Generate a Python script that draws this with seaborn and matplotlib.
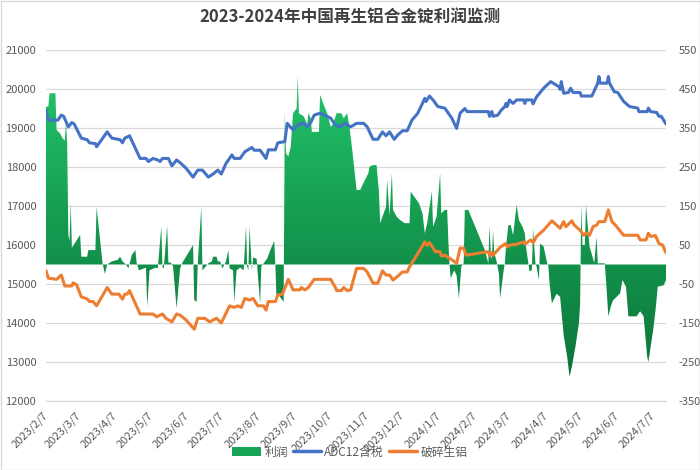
import matplotlib
matplotlib.use("Agg")
import matplotlib.pyplot as plt
import matplotlib.dates as mdates
import numpy as np
import pandas as pd
import seaborn as sns
from matplotlib.patches import Patch, Rectangle
from matplotlib.lines import Line2D
from matplotlib.colors import LinearSegmentedColormap

sns.set_theme(style="white")
plt.rcParams['font.family'] = ['Noto Sans CJK SC', 'DejaVu Sans']
plt.rcParams['axes.unicode_minus'] = False

title = "2023-2024年中国再生铝合金锭利润监测"
series_names = ["利润", "ADC12含税", "破碎生铝"]

adc12_dates = [
    "2023-02-07", "2023-02-09", "2023-02-17", "2023-02-20", "2023-02-22", "2023-02-26",
    "2023-03-01", "2023-03-03", "2023-03-09", "2023-03-14", "2023-03-16", "2023-03-21",
    "2023-03-22", "2023-03-31", "2023-04-04", "2023-04-11", "2023-04-13", "2023-04-15",
    "2023-04-19", "2023-04-28", "2023-05-03", "2023-05-05", "2023-05-09", "2023-05-13",
    "2023-05-15", "2023-05-17", "2023-05-22", "2023-05-25", "2023-05-29", "2023-06-01",
    "2023-06-06", "2023-06-12", "2023-06-16", "2023-06-20", "2023-06-25", "2023-06-29",
    "2023-07-03", "2023-07-06", "2023-07-10", "2023-07-15", "2023-07-17", "2023-07-22",
    "2023-07-26", "2023-08-01", "2023-08-03", "2023-08-08", "2023-08-13", "2023-08-15",
    "2023-08-21", "2023-08-23", "2023-08-29", "2023-08-31", "2023-09-05", "2023-09-09",
    "2023-09-14", "2023-09-17", "2023-09-20", "2023-09-23", "2023-09-28", "2023-10-02",
    "2023-10-07", "2023-10-11", "2023-10-15", "2023-10-19", "2023-10-24", "2023-10-29",
    "2023-11-04", "2023-11-07", "2023-11-12", "2023-11-16", "2023-11-20", "2023-11-23",
    "2023-11-26", "2023-11-30", "2023-12-03", "2023-12-07", "2023-12-11", "2023-12-15",
    "2023-12-20", "2023-12-26", "2023-12-27", "2023-12-30", "2024-01-03", "2024-01-06",
    "2024-01-12", "2024-01-18", "2024-01-22", "2024-01-25", "2024-01-29", "2024-01-31",
    "2024-02-18", "2024-02-19", "2024-02-21", "2024-02-22", "2024-02-26", "2024-02-29",
    "2024-03-03", "2024-03-04", "2024-03-05", "2024-03-07", "2024-03-10", "2024-03-13",
    "2024-03-19", "2024-03-20", "2024-03-21", "2024-03-26", "2024-03-27", "2024-03-30",
    "2024-04-05", "2024-04-11", "2024-04-13", "2024-04-18", "2024-04-19", "2024-04-20",
    "2024-04-22", "2024-04-26", "2024-04-28", "2024-04-30", "2024-05-06", "2024-05-07",
    "2024-05-16", "2024-05-19", "2024-05-21", "2024-05-22", "2024-05-23", "2024-05-29",
    "2024-05-30", "2024-05-31", "2024-06-04", "2024-06-07", "2024-06-12", "2024-06-17",
    "2024-06-24", "2024-06-25", "2024-07-02", "2024-07-03", "2024-07-05", "2024-07-10",
    "2024-07-12", "2024-07-14", "2024-07-18",
]
adc12_values = [
    19450, 19200, 19200, 19330, 19300, 19030,
    19140, 19100, 18740, 18700, 18620, 18600,
    18520, 18900, 18740, 18700, 18620, 18740,
    18800, 18220, 18220, 18140, 18220, 18180,
    18140, 18220, 18220, 18030, 18180, 18110,
    17970, 17740, 17920, 17920, 17740, 17820,
    17920, 17820, 18090, 18310, 18220, 18220,
    18390, 18500, 18430, 18430, 18220, 18440,
    18440, 18620, 18650, 19120, 18950, 19080,
    19120, 19030, 19140, 19330, 19380, 19330,
    19250, 19080, 19030, 19120, 19030, 19120,
    19120, 19030, 18710, 18710, 18900, 18800,
    18900, 18710, 18820, 18930, 18930, 19200,
    19380, 19760, 19680, 19820, 19680, 19550,
    19510, 19250, 18990, 19380, 19500, 19420,
    19420, 19300, 19420, 19300, 19330, 19460,
    19550, 19630, 19550, 19720, 19630, 19720,
    19720, 19630, 19720, 19720, 19620, 19800,
    20020, 20190, 20150, 20060, 19990, 20190,
    19890, 19910, 20020, 19910, 19910, 19820,
    19820, 20020, 20150, 20320, 20150, 20150,
    20320, 20150, 19930, 19910, 19680, 19550,
    19510, 19420, 19420, 19510, 19420, 19400,
    19300, 19300, 19100,
]

scrap_dates = [
    "2023-02-07", "2023-02-09", "2023-02-16", "2023-02-20", "2023-02-23", "2023-03-01",
    "2023-03-02", "2023-03-05", "2023-03-09", "2023-03-14", "2023-03-16", "2023-03-19",
    "2023-03-22", "2023-03-31", "2023-04-04", "2023-04-10", "2023-04-13", "2023-04-15",
    "2023-04-17", "2023-04-19", "2023-04-28", "2023-05-09", "2023-05-12", "2023-05-17",
    "2023-05-20", "2023-05-25", "2023-05-29", "2023-06-01", "2023-06-06", "2023-06-13",
    "2023-06-16", "2023-06-22", "2023-06-26", "2023-07-02", "2023-07-06", "2023-07-10",
    "2023-07-13", "2023-07-17", "2023-07-20", "2023-07-23", "2023-07-26", "2023-07-30",
    "2023-08-02", "2023-08-06", "2023-08-11", "2023-08-13", "2023-08-15", "2023-08-21",
    "2023-08-23", "2023-08-27", "2023-09-01", "2023-09-05", "2023-09-11", "2023-09-12",
    "2023-09-15", "2023-09-18", "2023-09-23", "2023-10-07", "2023-10-11", "2023-10-12",
    "2023-10-16", "2023-10-18", "2023-10-21", "2023-10-24", "2023-10-29", "2023-11-04",
    "2023-11-07", "2023-11-12", "2023-11-16", "2023-11-20", "2023-11-23", "2023-11-26",
    "2023-11-29", "2023-12-03", "2023-12-07", "2023-12-11", "2023-12-13", "2023-12-20",
    "2023-12-26", "2023-12-28", "2023-12-30", "2024-01-04", "2024-01-08", "2024-01-09",
    "2024-01-12", "2024-01-18", "2024-01-22", "2024-01-25", "2024-01-28", "2024-01-30",
    "2024-02-18", "2024-02-19", "2024-02-21", "2024-02-22", "2024-02-28", "2024-03-04",
    "2024-03-05", "2024-03-08", "2024-03-13", "2024-03-19", "2024-03-20", "2024-03-25",
    "2024-03-27", "2024-03-30", "2024-04-05", "2024-04-12", "2024-04-16", "2024-04-19",
    "2024-04-22", "2024-04-24", "2024-04-29", "2024-05-01", "2024-05-06", "2024-05-09",
    "2024-05-11", "2024-05-14", "2024-05-17", "2024-05-20", "2024-05-22", "2024-05-27",
    "2024-05-30", "2024-06-02", "2024-06-05", "2024-06-12", "2024-06-24", "2024-06-26",
    "2024-07-01", "2024-07-03", "2024-07-05", "2024-07-09", "2024-07-12", "2024-07-15",
    "2024-07-18",
]
scrap_values = [
    15340, 15150, 15120, 15230, 14950, 14950,
    15030, 14980, 14670, 14620, 14550, 14550,
    14440, 14910, 14740, 14740, 14610, 14740,
    14740, 14830, 14230, 14230, 14160, 14230,
    14120, 14030, 14230, 14200, 14080, 13840,
    14120, 14120, 14030, 14120, 14000, 14250,
    14440, 14400, 14440, 14400, 14630, 14590,
    14630, 14440, 14440, 14330, 14550, 14550,
    14720, 14740, 15120, 14850, 14850, 14910,
    14850, 14910, 15120, 15120, 14910, 14830,
    14830, 14910, 14830, 14850, 15400, 15400,
    15310, 15020, 15020, 15340, 15230, 15230,
    15100, 15200, 15310, 15310, 15440, 15780,
    16080, 15990, 16060, 15830, 15830, 15720,
    15740, 15620, 15530, 15920, 15920, 15740,
    15830, 15720, 15810, 15740, 15940, 16040,
    15950, 16000, 16020, 16080, 16020, 16130,
    16060, 16220, 16380, 16620, 16510, 16430,
    16600, 16470, 16620, 16510, 16380, 16250,
    16310, 16250, 16470, 16510, 16600, 16600,
    16900, 16600, 16510, 16250, 16250, 16130,
    16130, 16300, 16220, 16240, 16040, 16000,
    15800,
]

profit_dates = [
    "2023-02-07", "2023-02-09", "2023-02-10", "2023-02-15", "2023-02-16", "2023-02-19",
    "2023-02-21", "2023-02-23", "2023-02-24", "2023-02-25", "2023-02-26", "2023-02-27",
    "2023-02-28", "2023-03-01", "2023-03-08", "2023-03-09", "2023-03-14", "2023-03-15",
    "2023-03-21", "2023-03-22", "2023-03-27", "2023-03-29", "2023-03-31", "2023-04-04",
    "2023-04-09", "2023-04-11", "2023-04-13", "2023-04-16", "2023-04-18", "2023-04-21",
    "2023-04-24", "2023-04-25", "2023-04-27", "2023-05-03", "2023-05-04", "2023-05-06",
    "2023-05-11", "2023-05-13", "2023-05-16", "2023-05-17", "2023-05-18", "2023-05-21",
    "2023-05-22", "2023-05-24", "2023-05-26", "2023-05-29", "2023-06-01", "2023-06-02",
    "2023-06-03", "2023-06-06", "2023-06-12", "2023-06-13", "2023-06-15", "2023-06-16",
    "2023-06-19", "2023-06-20", "2023-06-22", "2023-06-25", "2023-06-28", "2023-06-29",
    "2023-07-02", "2023-07-03", "2023-07-05", "2023-07-07", "2023-07-10", "2023-07-12",
    "2023-07-13", "2023-07-16", "2023-07-17", "2023-07-19", "2023-07-22", "2023-07-25",
    "2023-07-27", "2023-07-28", "2023-07-29", "2023-07-30", "2023-08-01", "2023-08-02",
    "2023-08-05", "2023-08-08", "2023-08-09", "2023-08-14", "2023-08-17", "2023-08-20",
    "2023-08-21", "2023-08-22", "2023-08-23", "2023-08-28", "2023-08-29", "2023-08-30",
    "2023-09-01", "2023-09-03", "2023-09-05", "2023-09-08", "2023-09-09", "2023-09-10",
    "2023-09-14", "2023-09-17", "2023-09-18", "2023-09-20", "2023-09-21", "2023-09-27",
    "2023-09-28", "2023-10-01", "2023-10-04", "2023-10-07", "2023-10-09", "2023-10-12",
    "2023-10-16", "2023-10-18", "2023-10-21", "2023-10-23", "2023-10-25", "2023-10-29",
    "2023-11-01", "2023-11-03", "2023-11-08", "2023-11-09", "2023-11-12", "2023-11-15",
    "2023-11-16", "2023-11-17", "2023-11-18", "2023-11-23", "2023-11-24", "2023-11-26",
    "2023-11-28", "2023-11-29", "2023-12-02", "2023-12-05", "2023-12-09", "2023-12-13",
    "2023-12-14", "2023-12-17", "2023-12-21", "2023-12-24", "2023-12-26", "2023-12-28",
    "2024-01-01", "2024-01-02", "2024-01-05", "2024-01-08", "2024-01-09", "2024-01-12",
    "2024-01-14", "2024-01-15", "2024-01-16", "2024-01-17", "2024-01-20", "2024-01-22",
    "2024-01-24", "2024-01-26", "2024-01-28", "2024-01-29", "2024-02-01", "2024-02-15",
    "2024-02-18", "2024-02-19", "2024-02-20", "2024-02-21", "2024-02-22", "2024-02-23",
    "2024-02-25", "2024-02-27", "2024-02-28", "2024-03-02", "2024-03-03", "2024-03-04",
    "2024-03-06", "2024-03-08", "2024-03-10", "2024-03-13", "2024-03-15", "2024-03-18",
    "2024-03-20", "2024-03-21", "2024-03-23", "2024-03-24", "2024-03-26", "2024-03-27",
    "2024-03-29", "2024-03-30", "2024-04-01", "2024-04-02", "2024-04-05", "2024-04-08",
    "2024-04-09", "2024-04-10", "2024-04-12", "2024-04-16", "2024-04-19", "2024-04-22",
    "2024-04-25", "2024-04-27", "2024-04-29", "2024-05-02", "2024-05-05", "2024-05-06",
    "2024-05-07", "2024-05-08", "2024-05-10", "2024-05-11", "2024-05-14", "2024-05-17",
    "2024-05-18", "2024-05-20", "2024-05-21", "2024-05-27", "2024-05-28", "2024-05-30",
    "2024-06-01", "2024-06-03", "2024-06-06", "2024-06-09", "2024-06-11", "2024-06-14",
    "2024-06-16", "2024-06-23", "2024-06-26", "2024-06-29", "2024-07-02", "2024-07-03",
    "2024-07-04", "2024-07-07", "2024-07-09", "2024-07-11", "2024-07-16", "2024-07-18",
]
profit_values = [
    405, 405, 439, 439, 345, 336,
    324, 318, 366, 310, 76, 60,
    157, 43, 76, 20, 20, 37,
    37, 148, 5, -24, 0, 8,
    12, 20, 8, 0, -10, 25,
    37, 5, -15, -8, -108, -15,
    -8, -10, 97, -5, -12, 99,
    5, 5, -5, -112, -10, -2,
    5, 20, 50, -91, -96, 2,
    147, -15, -8, 3, 8, 20,
    20, 8, 8, -10, 8, 37,
    -10, -15, -96, -15, -8, -15,
    97, -5, -15, 97, -15, 18,
    15, -100, -5, 15, 40, 60,
    -3, -96, -75, -96, 392, 285,
    277, 302, 388, 400, 482, 388,
    380, 360, 388, 375, 340, 340,
    435, 410, 388, 353, 360, 388,
    388, 375, 388, 353, 302, 191,
    191, 204, 234, 251, 255, 255,
    220, 187, 106, 148, 217, 125,
    234, 140, 123, 114, 106, 106,
    187, 174, 157, 131, 80, 106,
    187, 97, 123, 234, 131, 140,
    140, 60, 0, -35, -15, -28,
    -87, -5, 3, 140, 140, 37,
    3, 101, 30, 12, 88, 30,
    8, -24, -87, -15, 3, 46,
    101, 101, 75, 153, 114, 97,
    80, 46, 3, -18, -14, 93,
    3, -5, -40, 54, 46, 3,
    -2, -48, -100, -75, -83, -181,
    -236, -288, -262, -211, -150, -100,
    153, 50, 50, 153, 46, 15,
    3, 71, 3, 3, -40, -133,
    -108, -92, -83, -74, -40, -57,
    -133, -133, -120, -133, -236, -250,
    -230, -170, -120, -57, -53, -40,
]

tick_dates = [
    "2023-02-07", "2023-03-07", "2023-04-07", "2023-05-07", "2023-06-07", "2023-07-07",
    "2023-08-07", "2023-09-07", "2023-10-07", "2023-11-07", "2023-12-07", "2024-01-07",
    "2024-02-07", "2024-03-07", "2024-04-07", "2024-05-07", "2024-06-07", "2024-07-07",
]
tick_labels = [
    "2023/2/7", "2023/3/7", "2023/4/7", "2023/5/7", "2023/6/7", "2023/7/7",
    "2023/8/7", "2023/9/7", "2023/10/7", "2023/11/7", "2023/12/7", "2024/1/7",
    "2024/2/7", "2024/3/7", "2024/4/7", "2024/5/7", "2024/6/7", "2024/7/7",
]
left_ticks = [12000, 13000, 14000, 15000, 16000, 17000, 18000, 19000, 20000, 21000]
right_ticks = [-350, -250, -150, -50, 50, 150, 250, 350, 450, 550]

BLUE = "#4472C4"
ORANGE = "#ED7D31"
GRID = "#D9D9D9"
TXT = "#595959"

fig = plt.figure(figsize=(7, 4.7), dpi=100)
W, H = 700, 470
pa = fig.add_axes([46 / W, 1 - 401 / H, (666 - 46) / W, (401 - 50) / H])
qa = pa.twinx()

x_adc = mdates.date2num(pd.to_datetime(adc12_dates))
x_scrap = mdates.date2num(pd.to_datetime(scrap_dates))
x_profit = mdates.date2num(pd.to_datetime(profit_dates))
xmin = mdates.date2num(pd.Timestamp("2023-02-07"))
xmax = mdates.date2num(pd.Timestamp("2024-07-18"))

# profit area with vertical gradient (right axis)
fb = pa.fill_between(x_profit, profit_values, 0, facecolor="none", edgecolor="none")
cmap = LinearSegmentedColormap.from_list("g", ["#0b6e36", "#159a50", "#25cc70"])
grad = np.linspace(1, 0, 256).reshape(-1, 1)
im = pa.imshow(grad, cmap=cmap, aspect="auto", extent=[xmin, xmax, -350, 550],
               origin="upper", zorder=2, interpolation="bilinear")
im.set_clip_path(fb.get_paths()[0], transform=pa.transData)

# price lines (left axis)
sns.lineplot(x=x_adc, y=adc12_values, ax=qa, color=BLUE, lw=2.2, sort=False,
             estimator=None, label=None)
sns.lineplot(x=x_scrap, y=scrap_values, ax=qa, color=ORANGE, lw=2.2, sort=False,
             estimator=None, label=None)

pa.set_xlim(xmin, xmax)
pa.set_ylim(-350, 550)
qa.set_ylim(12000, 21000)
pa.set_yticks(right_ticks)
qa.set_yticks(left_ticks)
pa.yaxis.tick_right()
qa.yaxis.tick_left()
pa.set_xticks(mdates.date2num(pd.to_datetime(tick_dates)))
pa.set_xticklabels(tick_labels, rotation=45, ha="right", va="center",
                   rotation_mode="anchor")
pa.set_xlabel("")
pa.set_ylabel("")
qa.set_ylabel("")

pa.grid(axis="y", color=GRID, lw=0.9)
pa.grid(axis="x", visible=False)
qa.grid(False)
pa.set_axisbelow(True)

for ax in (pa, qa):
    for s in ax.spines.values():
        s.set_visible(False)
pa.spines["bottom"].set_visible(True)
pa.spines["bottom"].set_color(GRID)
pa.spines["bottom"].set_linewidth(0.9)

pa.tick_params(axis="x", colors=GRID, length=4, width=0.9, direction="out",
               labelcolor=TXT, labelsize=8, pad=5)
pa.tick_params(axis="y", length=0, labelcolor=TXT, labelsize=8, pad=9)
qa.tick_params(axis="y", length=0, labelcolor=TXT, labelsize=8, pad=7)

fig.text(0.5, 1 - 18 / H, title, ha="center", va="center", fontsize=12,
         fontweight="bold", color="#404040")

handles = [
    Patch(facecolor="#17a457", edgecolor="none"),
    Line2D([], [], color=BLUE, lw=2.5),
    Line2D([], [], color=ORANGE, lw=2.5),
]
leg = fig.legend(handles, series_names, loc="center", bbox_to_anchor=(0.5, 1 - 452 / H),
                 ncol=3, frameon=False, fontsize=8.5, handlelength=2.4, handleheight=0.7,
                 handletextpad=0.3, columnspacing=0.4)
for t in leg.get_texts():
    t.set_color(TXT)

fig.patches.append(Rectangle((0.5 / W, 0.5 / H), 1 - 1 / W, 1 - 1 / H,
                             transform=fig.transFigure, fill=False,
                             edgecolor=GRID, lw=1))

fig.savefig("out.png", dpi=100)
